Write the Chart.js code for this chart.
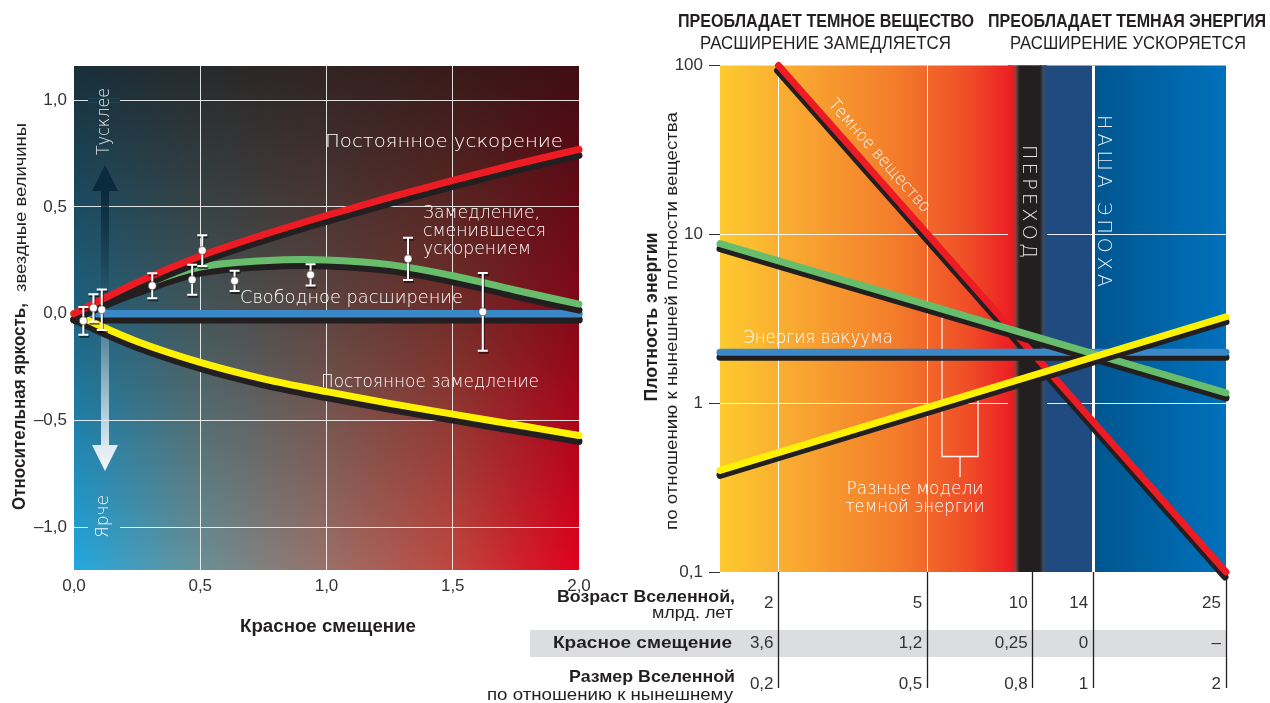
<!DOCTYPE html>
<html><head><meta charset="utf-8">
<script src="https://cdn.jsdelivr.net/npm/chart.js@4.4.0/dist/chart.umd.min.js"></script>
<style>
html,body{margin:0;padding:0;background:#fff;width:1270px;height:703px;overflow:hidden}
#wl{position:absolute;left:0;top:0;width:640px;height:703px}
#wr{position:absolute;left:470px;top:0;width:800px;height:703px}
</style></head><body>
<div id="wl"><canvas id="cl"></canvas></div>
<div id="wr"><canvas id="cr"></canvas></div>
<script>
// ---------- LEFT CHART DATA ----------
const zGrid = [0, 0.1, 0.25, 0.5, 0.75, 1.0, 1.25, 1.5, 1.75, 2.0];
const accelMag = [0, 0.06, 0.147, 0.27, 0.37, 0.46, 0.545, 0.625, 0.70, 0.77];
const decelAccelMag = [0, 0.055, 0.125, 0.218, 0.248, 0.252, 0.23, 0.178, 0.11, 0.045];
const decelMag = [0, -0.055, -0.13, -0.228, -0.305, -0.365, -0.42, -0.47, -0.52, -0.57];
const freeMag = [0, 0, 0, 0, 0, 0, 0, 0, 0, 0];
const snZ = [0.037, 0.077, 0.11, 0.31, 0.468, 0.508, 0.636, 0.937, 1.323, 1.619];
const snMag = [-0.033, 0.027, 0.019, 0.131, 0.159, 0.296, 0.154, 0.182, 0.257, 0.009];
const snErr = [0.065, 0.064, 0.095, 0.058, 0.07, 0.072, 0.047, 0.05, 0.099, 0.182];
const zTicks = [0, 0.5, 1, 1.5, 2];
const magTicks = [-1, -0.5, 0, 0.5, 1];

// ---------- RIGHT CHART DATA ----------
const matterA = [0.2, 2];
const matterRho = [100, 0.1];
const vacuumA = [0.148, 2];
const vacuumRho = [2.0, 2.0];
const darkEnergyA = [0.148, 2];
const decayingRho = [8.8, 1.15];
const growingRho = [0.40, 3.25];
const rhoTicks = [0.1, 1, 10, 100];
const epochA = [0.2, 0.43, 0.74, 1.01, 2];
const ageLabels = ['2', '5', '10', '14', '25'];
const redshiftLabels = ['3,6', '1,2', '0,25', '0', '–'];
const sizeLabels = ['0,2', '0,5', '0,8', '1', '2'];

const FF = "'Liberation Sans', Arial, sans-serif";
const LF = "200 17px 'DejaVu Sans', 'Liberation Sans', sans-serif";
const DARK = '#231f20';
const OFF = 470;

function T(ctx, s, x, y, o) {
  o = o || {};
  ctx.save();
  ctx.translate(x, y);
  if (o.rot) ctx.rotate(o.rot);
  ctx.font = o.font || ('17px ' + FF);
  ctx.fillStyle = o.color || '#fff';
  ctx.textBaseline = 'middle';
  ctx.textAlign = 'left';
  const m = ctx.measureText(s).width;
  const sx = o.w ? o.w / m : 1;
  ctx.scale(sx, 1);
  const al = o.align || 'left';
  const x0 = al === 'left' ? 0 : (al === 'center' ? -m / 2 : -m);
  ctx.fillText(s, x0, 0);
  ctx.restore();
}
function spaced(ctx, s, cx, y0, y1, font, color) {
  ctx.save();
  ctx.translate(cx, y0);
  ctx.rotate(Math.PI / 2);
  ctx.font = font; ctx.fillStyle = color; ctx.textBaseline = 'middle'; ctx.textAlign = 'left';
  const chars = [...s];
  const ws = chars.map(c => ctx.measureText(c).width);
  const tot = ws.reduce((a, b) => a + b, 0);
  const gap = (y1 - y0 - tot) / (chars.length - 1);
  let p = 0;
  chars.forEach((c, i) => { ctx.fillText(c, p, 0); p += ws[i] + gap; });
  ctx.restore();
}
const fmt1 = v => (v < 0 ? '–' : '') + Math.abs(v).toFixed(1).replace('.', ',');

const shadowPlugin = {
  id: 'shadow',
  beforeDatasetDraw(chart, args) {
    const ds = chart.data.datasets[args.index];
    const ctx = chart.ctx;
    if (ds.errors) {
      const xs = chart.scales.x, ys = chart.scales.y;
      ctx.save();
      ctx.strokeStyle = '#fff'; ctx.lineWidth = 2;
      ctx.shadowColor = 'rgba(0,0,0,0.55)'; ctx.shadowOffsetX = 1; ctx.shadowOffsetY = 2; ctx.shadowBlur = 0;
      ds.data.forEach((p, i) => {
        const px = xs.getPixelForValue(p.x);
        const y1 = ys.getPixelForValue(p.y + ds.errors[i]);
        const y2 = ys.getPixelForValue(p.y - ds.errors[i]);
        ctx.beginPath();
        ctx.moveTo(px, y1); ctx.lineTo(px, y2);
        ctx.moveTo(px - 5, y1); ctx.lineTo(px + 5, y1);
        ctx.moveTo(px - 5, y2); ctx.lineTo(px + 5, y2);
        ctx.stroke();
      });
      ctx.restore();
    }
    if (ds.shadow) {
      ctx.save();
      ctx.shadowColor = ds.shadow.color;
      ctx.shadowOffsetX = ds.shadow.x || 0;
      ctx.shadowOffsetY = ds.shadow.y;
      ctx.shadowBlur = 0;
    }
  },
  afterDatasetDraw(chart, args) {
    const ds = chart.data.datasets[args.index];
    if (ds.shadow) chart.ctx.restore();
  }
};

// ---------- LEFT ----------
function leftBg(ctx, a) {
  const g = ctx.createLinearGradient(a.left, 0, a.right, 0);
  g.addColorStop(0, '#22a8e0');
  g.addColorStop(0.25, '#6a9096');
  g.addColorStop(0.5, '#9a7068');
  g.addColorStop(0.75, '#c0463e');
  g.addColorStop(1, '#e2001e');
  ctx.fillStyle = g;
  ctx.fillRect(a.left, a.top, a.right - a.left, a.bottom - a.top);
  const v = ctx.createLinearGradient(0, a.top, 0, a.bottom);
  v.addColorStop(0, 'rgba(22,16,16,0.8)');
  v.addColorStop(0.5, 'rgba(22,16,16,0.45)');
  v.addColorStop(1, 'rgba(22,16,16,0)');
  ctx.fillStyle = v;
  ctx.fillRect(a.left, a.top, a.right - a.left, a.bottom - a.top);
}
const leftDeco = {
  id: 'leftDeco',
  beforeDraw(chart) {
    const { ctx, chartArea: a } = chart;
    ctx.save(); leftBg(ctx, a); ctx.restore();
  },
  beforeDatasetsDraw(chart) {
    const { ctx, chartArea: a } = chart;
    const ys = chart.scales.y;
    [1, -1].forEach(v => {
      const py = ys.getPixelForValue(v);
      ctx.save(); ctx.beginPath(); ctx.rect(88, py - 2, 32, 4); ctx.clip(); leftBg(ctx, a); ctx.restore();
    });
    ctx.save();
    let g = ctx.createLinearGradient(0, 190, 0, 300);
    g.addColorStop(0, 'rgba(10,40,60,0.95)'); g.addColorStop(1, 'rgba(10,40,60,0)');
    ctx.fillStyle = g; ctx.fillRect(101, 189, 8, 111);
    ctx.fillStyle = '#0b2a3d';
    ctx.beginPath(); ctx.moveTo(92, 191); ctx.lineTo(118, 191); ctx.lineTo(105, 165); ctx.closePath(); ctx.fill();
    g = ctx.createLinearGradient(0, 322, 0, 446);
    g.addColorStop(0, 'rgba(230,238,245,0.15)'); g.addColorStop(1, 'rgba(235,242,248,0.9)');
    ctx.fillStyle = g; ctx.fillRect(101, 322, 8, 124);
    g = ctx.createLinearGradient(0, 445, 0, 471);
    g.addColorStop(0, '#dfe9f0'); g.addColorStop(1, '#f4f7fa');
    ctx.fillStyle = g;
    ctx.beginPath(); ctx.moveTo(92, 445); ctx.lineTo(118, 445); ctx.lineTo(105, 471); ctx.closePath(); ctx.fill();
    ctx.restore();
  },
  afterDatasetsDraw(chart) {
    const ctx = chart.ctx;
    const f = LF;
    T(ctx, 'Постоянное ускорение', 325, 143, { font: f, w: 238 });
    T(ctx, 'Замедление,', 423, 214, { font: f, w: 117 });
    T(ctx, 'сменившееся', 423, 232, { font: f, w: 123 });
    T(ctx, 'ускорением', 423, 250, { font: f, w: 108 });
    T(ctx, 'Свободное расширение', 240, 299, { font: f, w: 223 });
    T(ctx, 'Постоянное замедление', 321, 383, { font: f, w: 218 });
    T(ctx, 'Тусклее', 104.5, 121.5, { font: f, w: 67, align: 'center', rot: -Math.PI / 2, color: '#e8eef2' });
    T(ctx, 'Ярче', 104, 516.5, { font: f, w: 43, align: 'center', rot: -Math.PI / 2, color: '#f4f7fa' });
  },
  afterDraw(chart) {
    const ctx = chart.ctx;
    T(ctx, 'Красное смещение', 328, 627, { font: 'bold 18px ' + FF, w: 176, align: 'center', color: DARK });
    T(ctx, 'Относительная яркость,', 20, 510, { font: 'bold 18px ' + FF, w: 207, rot: -Math.PI / 2, color: DARK });
    T(ctx, 'звездные величины', 21, 292, { font: '17px ' + FF, w: 169, rot: -Math.PI / 2, color: DARK });
  }
};

new Chart(document.getElementById('cl'), {
  type: 'line',
  data: {
    datasets: [
      { label: 'SN', data: snZ.map((z, i) => ({ x: z, y: snMag[i] })), errors: snErr, showLine: false,
        pointRadius: 4, pointBackgroundColor: '#fff', pointBorderColor: 'rgba(30,30,30,0.5)', pointBorderWidth: 1 },
      { label: 'accel', data: zGrid.map((z, i) => ({ x: z, y: accelMag[i] })), borderColor: '#ed1c24', borderWidth: 7,
        pointRadius: 0, cubicInterpolationMode: 'monotone', borderCapStyle: 'round', clip: false, shadow: { color: DARK, y: 6 } },
      { label: 'decel-accel', data: zGrid.map((z, i) => ({ x: z, y: decelAccelMag[i] })), borderColor: '#67bd6b', borderWidth: 7,
        pointRadius: 0, tension: 0.4, borderCapStyle: 'round', clip: false, shadow: { color: DARK, y: 6 } },
      { label: 'decel', data: zGrid.map((z, i) => ({ x: z, y: decelMag[i] })), borderColor: '#fff200', borderWidth: 7,
        pointRadius: 0, cubicInterpolationMode: 'monotone', borderCapStyle: 'round', clip: false, shadow: { color: DARK, y: 6 } },
      { label: 'free', data: zGrid.map((z, i) => ({ x: z, y: freeMag[i] })), borderColor: '#3b88c9', borderWidth: 7.5,
        pointRadius: 0, borderCapStyle: 'round', clip: false, shadow: { color: DARK, y: 6 } }
    ]
  },
  options: {
    animation: false, responsive: true, maintainAspectRatio: false, devicePixelRatio: 1,
    layout: { padding: { left: 0, right: 61, top: 66, bottom: 0 } },
    plugins: { legend: { display: false }, tooltip: { enabled: false } },
    scales: {
      x: {
        type: 'linear', min: 0, max: 2,
        afterBuildTicks: s => { s.ticks = zTicks.map(v => ({ value: v })); },
        afterFit: s => { s.height = 133; },
        ticks: { callback: v => fmt1(v), font: { family: FF, size: 17 }, color: '#333', padding: 6, maxRotation: 0, autoSkip: false },
        grid: { drawTicks: false, lineWidth: 1,
          color: c => (c.tick && (c.tick.value === 0 || c.tick.value === 2)) ? 'rgba(0,0,0,0)' : 'rgba(255,255,255,0.85)' },
        border: { display: false }
      },
      y: {
        type: 'linear', min: -1.2, max: 1.16,
        afterBuildTicks: s => { s.ticks = magTicks.map(v => ({ value: v })); },
        afterFit: s => { s.width = 74; },
        ticks: { callback: v => fmt1(v), font: { family: FF, size: 17 }, color: '#333', padding: 7, autoSkip: false },
        grid: { drawTicks: false, lineWidth: 1,
          color: c => (c.tick && c.tick.value === 0) ? 'rgba(0,0,0,0)' : 'rgba(255,255,255,0.85)' },
        border: { display: false }
      }
    }
  },
  plugins: [shadowPlugin, leftDeco]
});

// ---------- RIGHT ----------
function transitionStrip(ctx, top, h) {
  const g = ctx.createLinearGradient(1008, 0, 1047, 0);
  g.addColorStop(0, '#ed2224');
  g.addColorStop(0.13, '#ec1c24');
  g.addColorStop(0.2, '#7a4a40');
  g.addColorStop(0.3, DARK);
  g.addColorStop(0.82, DARK);
  g.addColorStop(0.9, '#3c4a62');
  g.addColorStop(1, '#1f4b80');
  ctx.fillStyle = g;
  ctx.fillRect(1008, top, 39, h);
}
const rightDeco = {
  id: 'rightDeco',
  beforeDraw(chart) {
    const { ctx, chartArea: a } = chart;
    ctx.save(); ctx.translate(-OFF, 0);
    const L = a.left + OFF, R = a.right + OFF, top = a.top, h = a.bottom - a.top;
    let g = ctx.createLinearGradient(L, 0, 1013, 0);
    g.addColorStop(0, '#fdca2e');
    g.addColorStop(0.25, '#f9a931');
    g.addColorStop(0.6, '#f37c2b');
    g.addColorStop(0.85, '#ef4d27');
    g.addColorStop(1, '#ec1c24');
    ctx.fillStyle = g; ctx.fillRect(L, top, 1013 - L, h);
    ctx.fillStyle = '#1f4b80'; ctx.fillRect(1040, top, 55, h);
    g = ctx.createLinearGradient(1093, 0, R, 0);
    g.addColorStop(0, '#00568f'); g.addColorStop(1, '#0071bc');
    ctx.fillStyle = g; ctx.fillRect(1093, top, R - 1093, h);
    transitionStrip(ctx, top, h);
    ctx.fillStyle = '#dcddde'; ctx.fillRect(530, 630, R - 530, 27);
    ctx.restore();
  },
  beforeDatasetsDraw(chart) {
    const { ctx, chartArea: a } = chart;
    ctx.save(); ctx.translate(-OFF, 0);
    transitionStrip(ctx, a.top, a.bottom - a.top);
    ctx.strokeStyle = 'rgba(255,255,255,0.95)'; ctx.lineWidth = 1.3;
    ctx.beginPath();
    ctx.moveTo(942, 310); ctx.lineTo(942, 456.5); ctx.lineTo(978, 456.5); ctx.lineTo(978, 394);
    ctx.moveTo(960, 456.5); ctx.lineTo(960, 477);
    ctx.stroke();
    ctx.restore();
  },
  afterDatasetsDraw(chart) {
    const ctx = chart.ctx;
    ctx.save(); ctx.translate(-OFF, 0);
    const f = LF;
    T(ctx, 'Темное вещество', 879, 156, { font: f, w: 145, align: 'center', rot: 48.5 * Math.PI / 180 });
    T(ctx, 'Энергия вакуума', 743, 339, { font: f, w: 150 });
    T(ctx, 'Разные модели', 915, 490, { font: f, w: 137, align: 'center' });
    T(ctx, 'темной энергии', 915, 508, { font: f, w: 139, align: 'center' });
    spaced(ctx, 'ПЕРЕХОД', 1028, 145, 258, "200 19px 'DejaVu Sans', sans-serif", '#e6e6e6');
    spaced(ctx, 'НАША ЭПОХА', 1103, 115, 287, "200 19px 'DejaVu Sans', sans-serif", '#e6eef6');
    ctx.restore();
  },
  afterDraw(chart) {
    const ctx = chart.ctx;
    const xs = chart.scales.x;
    ctx.save(); ctx.translate(-OFF, 0);
    const fb = 'bold 18px ' + FF, fn = '18px ' + FF;
    T(ctx, 'ПРЕОБЛАДАЕТ ТЕМНОЕ ВЕЩЕСТВО', 678, 22, { font: fb, w: 296, color: DARK });
    T(ctx, 'РАСШИРЕНИЕ ЗАМЕДЛЯЕТСЯ', 700, 44, { font: fn, w: 251, color: DARK });
    T(ctx, 'ПРЕОБЛАДАЕТ ТЕМНАЯ ЭНЕРГИЯ', 988, 22, { font: fb, w: 278, color: DARK });
    T(ctx, 'РАСШИРЕНИЕ УСКОРЯЕТСЯ', 1010, 44, { font: fn, w: 236, color: DARK });
    T(ctx, 'Плотность энергии', 652, 317, { font: 'bold 18px ' + FF, w: 169, align: 'center', rot: -Math.PI / 2, color: DARK });
    T(ctx, 'по отношению к нынешней плотности вещества', 672, 321, { font: '17px ' + FF, w: 418, align: 'center', rot: -Math.PI / 2, color: DARK });
    const lb = 'bold 17px ' + FF, ln = '16px ' + FF;
    T(ctx, 'Возраст Вселенной,', 735, 597, { font: lb, w: 178, align: 'right', color: DARK });
    T(ctx, 'млрд. лет', 733, 614, { font: ln, w: 81, align: 'right', color: DARK });
    T(ctx, 'Красное смещение', 732, 643, { font: lb, w: 179, align: 'right', color: DARK });
    T(ctx, 'Размер Вселенной', 735, 677, { font: lb, w: 166, align: 'right', color: DARK });
    T(ctx, 'по отношению к нынешнему', 733, 696, { font: ln, w: 246, align: 'right', color: DARK });
    const fv = '17px ' + FF;
    epochA.forEach((a, i) => {
      const px = xs.getPixelForValue(a) + OFF - 5;
      T(ctx, ageLabels[i], px, 603, { font: fv, align: 'right', color: '#333' });
      T(ctx, redshiftLabels[i], px, 643, { font: fv, align: 'right', color: '#333' });
      T(ctx, sizeLabels[i], px, 684, { font: fv, align: 'right', color: '#333' });
    });
    ctx.restore();
  }
};

new Chart(document.getElementById('cr'), {
  type: 'line',
  data: {
    datasets: [
      { label: 'growing', data: darkEnergyA.map((a, i) => ({ x: a, y: growingRho[i] })), borderColor: '#fff200', borderWidth: 7,
        pointRadius: 0, borderCapStyle: 'round', clip: false, shadow: { color: DARK, y: 5 } },
      { label: 'decaying', data: darkEnergyA.map((a, i) => ({ x: a, y: decayingRho[i] })), borderColor: '#67bd6b', borderWidth: 7,
        pointRadius: 0, borderCapStyle: 'round', clip: false, shadow: { color: DARK, y: 5 } },
      { label: 'vacuum', data: vacuumA.map((a, i) => ({ x: a, y: vacuumRho[i] })), borderColor: '#3b88c9', borderWidth: 7,
        pointRadius: 0, borderCapStyle: 'round', clip: false, shadow: { color: DARK, y: 5 } },
      { label: 'matter', data: matterA.map((a, i) => ({ x: a, y: matterRho[i] })), borderColor: '#ed1c24', borderWidth: 7,
        pointRadius: 0, borderCapStyle: 'round', clip: false, shadow: { color: DARK, x: -1, y: 5 } }
    ]
  },
  options: {
    animation: false, responsive: true, maintainAspectRatio: false, devicePixelRatio: 1,
    layout: { padding: { left: 0, right: 44, top: 65.5, bottom: 0 } },
    plugins: { legend: { display: false }, tooltip: { enabled: false } },
    scales: {
      x: {
        type: 'logarithmic', min: 0.148, max: 2,
        afterBuildTicks: s => { s.ticks = epochA.map(v => ({ value: v })); },
        afterFit: s => { s.height = 131; },
        ticks: { display: false },
        grid: {
          drawTicks: true, tickLength: 116, tickColor: DARK, tickWidth: 1.3,
          color: c => c.index === 4 ? 'rgba(0,0,0,0)' : '#ffffff',
          lineWidth: c => c.index === 3 ? 3 : 1
        },
        border: { display: false }
      },
      y: {
        type: 'logarithmic', min: 0.1, max: 100,
        afterBuildTicks: s => { s.ticks = rhoTicks.map(v => ({ value: v })); },
        afterFit: s => { s.width = 250; },
        ticks: { callback: v => String(v).replace('.', ','), font: { family: FF, size: 17 }, color: '#333', padding: 6, autoSkip: false },
        grid: {
          drawTicks: true, tickLength: 11, tickColor: '#333', tickWidth: 1,
          color: c => (c.tick && (c.tick.value === 1 || c.tick.value === 10)) ? 'rgba(255,255,255,0.9)' : 'rgba(0,0,0,0)'
        },
        border: { display: false }
      }
    }
  },
  plugins: [shadowPlugin, rightDeco]
});
</script>
</body></html>
